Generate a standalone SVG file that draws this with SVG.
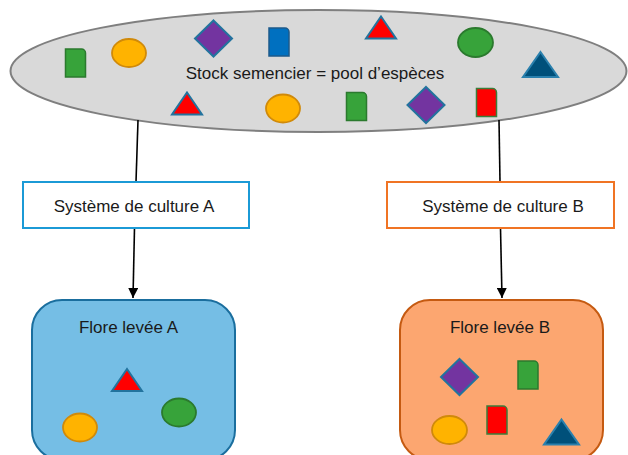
<svg xmlns="http://www.w3.org/2000/svg" xmlns:xlink="http://www.w3.org/1999/xlink" width="628" height="455" viewBox="0 0 628 455">
<style>
.lbl{font-family:"Liberation Sans",Arial,sans-serif;font-size:17px;fill:#1a1a1a;text-anchor:middle}
.conn{stroke:#000;stroke-width:1.6;fill:none}
.gr{fill:#37a33a;stroke:#2b7a2e;stroke-width:1.5}
.rr{fill:#ff0000;stroke:#3a7d3a;stroke-width:1.5}
.br{fill:#0070c0;stroke:#1d5a8a;stroke-width:1.5}
.or{fill:#ffb300;stroke:#d08a0a;stroke-width:1.8}
.ge{fill:#37a33a;stroke:#2b7a2e;stroke-width:1.8}
.pd{fill:#7334a0;stroke:#22739e;stroke-width:2}
.rt{fill:#ff0000;stroke:#22739e;stroke-width:2}
.dt{fill:#00507a;stroke:#2a80ad;stroke-width:2}
</style>
<defs>
<path id="rect" d="M-10,-14 h16 a4,4 0 0 1 4,4 v24 h-20 z"/>
<path id="dia" d="M0,-18 L18.5,0 L0,18 L-18.5,0 z"/>
<path id="tri" d="M0,-11 L15,11 L-15,11 z"/>
<path id="dtri" d="M0,-12.5 L17.5,12.5 L-17.5,12.5 z"/>
<marker id="arr" viewBox="0 0 10 10" refX="10" refY="5" markerWidth="10" markerHeight="10" markerUnits="userSpaceOnUse" orient="auto">
<path d="M0,0 L10,5 L0,10 z" fill="#000"/>
</marker>
</defs>

<g id="stock">
<ellipse cx="318.5" cy="71" rx="308" ry="61" fill="#d9d9d9" stroke="#7f7f7f" stroke-width="2"/>
<use xlink:href="#rect" class="gr" x="75.5" y="63"/>
<ellipse class="or" cx="129" cy="53" rx="17" ry="14"/>
<use xlink:href="#dia" class="pd" x="213.5" y="38.5"/>
<use xlink:href="#rect" class="br" x="279" y="42"/>
<use xlink:href="#tri" class="rt" x="381" y="27.5"/>
<ellipse class="ge" cx="475.5" cy="42.5" rx="17.5" ry="14.5"/>
<use xlink:href="#dtri" class="dt" x="540.5" y="64.5"/>
<use xlink:href="#tri" class="rt" x="187" y="103.5"/>
<ellipse class="or" cx="283" cy="108.5" rx="17" ry="14"/>
<use xlink:href="#rect" class="gr" x="356.5" y="106.5"/>
<use xlink:href="#dia" class="pd" x="426" y="105"/>
<use xlink:href="#rect" class="rr" x="486.5" y="102.5"/>
<text class="lbl" x="315" y="79">Stock semencier = pool d’espèces</text>
</g>

<g id="connectors">
<line class="conn" x1="138" y1="120" x2="136" y2="182"/>
<line class="conn" x1="134.5" y1="228" x2="133" y2="298" marker-end="url(#arr)"/>
<line class="conn" x1="499" y1="120" x2="500" y2="182"/>
<line class="conn" x1="500.5" y1="228" x2="502" y2="298" marker-end="url(#arr)"/>
</g>

<g id="sysA">
<rect x="23" y="182" width="226" height="46" fill="#fff" stroke="#1b9ad6" stroke-width="2"/>
<text class="lbl" x="134" y="212">Système de culture A</text>
</g>

<g id="sysB">
<rect x="387" y="182" width="227" height="46" fill="#fff" stroke="#f07424" stroke-width="2"/>
<text class="lbl" x="503" y="212">Système de culture B</text>
</g>

<g id="floreA">
<rect x="32" y="300" width="203" height="160" rx="30" ry="30" fill="#75bee5" stroke="#1a6e9e" stroke-width="2"/>
<text class="lbl" x="128.5" y="333">Flore levée A</text>
<use xlink:href="#tri" class="rt" x="127" y="380"/>
<ellipse class="ge" cx="179" cy="412.5" rx="17" ry="14"/>
<ellipse class="or" cx="80" cy="427.5" rx="17" ry="14"/>
</g>

<g id="floreB">
<rect x="400" y="300" width="203" height="160" rx="30" ry="30" fill="#fca670" stroke="#c55a11" stroke-width="2"/>
<text class="lbl" x="500" y="333">Flore levée B</text>
<use xlink:href="#dia" class="pd" x="459.5" y="377"/>
<use xlink:href="#rect" class="gr" x="528" y="375"/>
<use xlink:href="#rect" class="rr" x="497" y="420"/>
<ellipse class="or" cx="449.5" cy="430" rx="17.5" ry="14"/>
<use xlink:href="#dtri" class="dt" x="561.5" y="432"/>
</g>
</svg>
